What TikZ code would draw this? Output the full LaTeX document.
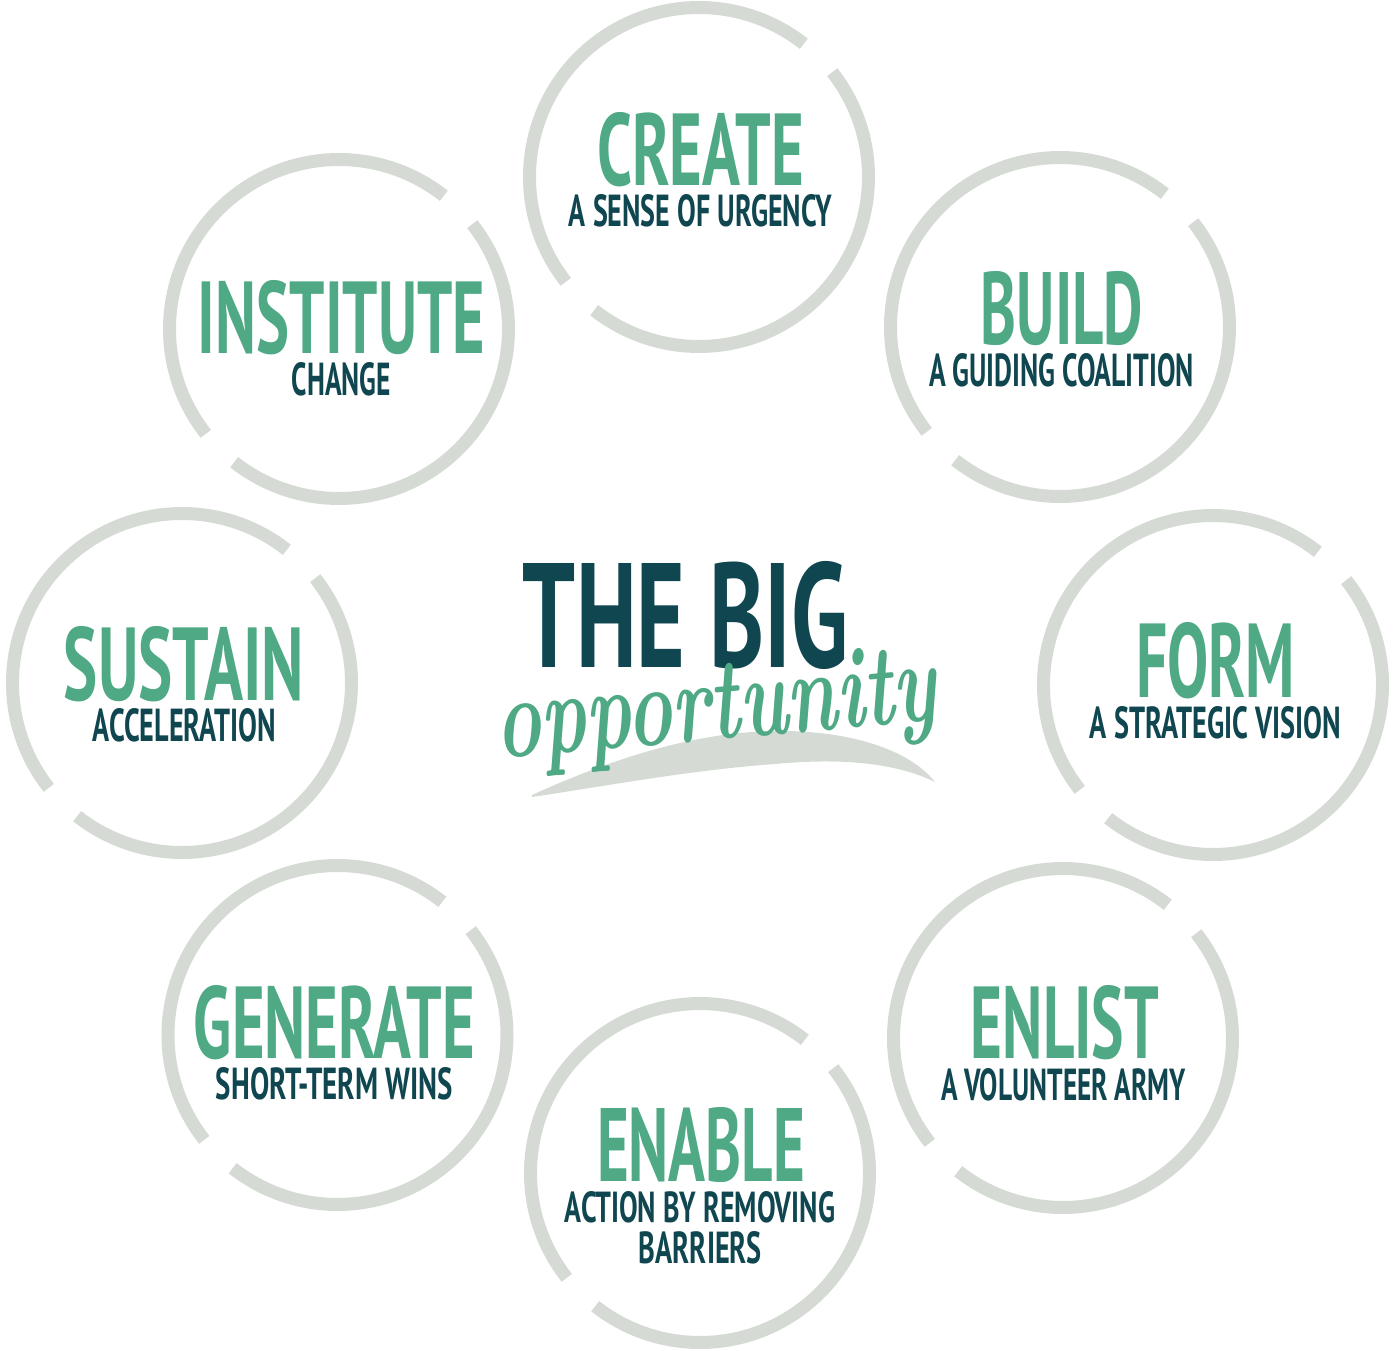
\documentclass[tikz,border=0pt]{standalone}
\usepackage{fontspec}
\usepackage{graphicx}
\newfontfamily\condfont{PT Sans}
\definecolor{ringgray}{HTML}{D5DBD4}
\definecolor{leaf}{HTML}{4EA984}
\definecolor{deepteal}{HTML}{0F4650}
\newcommand{\fitto}[3]{\resizebox{#1pt}{#2pt}{\condfont\bfseries #3}}
\begin{document}
\begin{tikzpicture}[x=1pt,y=-1pt,
  ring/.style={line width=13pt, draw=ringgray, line cap=butt},
  headtext/.style={inner sep=0pt, text=leaf, anchor=center},
  subtext/.style={inner sep=0pt, text=deepteal, anchor=center}]
\useasboundingbox (0,0) rectangle (1400,1351);
% ring centres
\coordinate (cCreate) at (699,177);
\coordinate (cBuild) at (1060,327);
\coordinate (cForm) at (1213,685);
\coordinate (cEnlist) at (1063,1038);
\coordinate (cEnable) at (700,1173);
\coordinate (cGenerate) at (337.5,1035);
\coordinate (cSustain) at (182,683);
\coordinate (cInstitute) at (339,329);
\foreach \c in {cCreate,cBuild,cForm,cEnlist,cEnable,cGenerate,cSustain,cInstitute}{
  \draw[ring] (\c) ++(-38.2:169.5) arc[start angle=-38.2, end angle=128.2, radius=169.5];
  \draw[ring] (\c) ++(141.8:169.5) arc[start angle=141.8, end angle=308.2, radius=169.5];
}
% texts
\node[headtext] (tCreate) at (700.5,149.5) {\fitto{207}{73}{CREATE}};
\node[subtext] (sCreate) at (700.5,211) {\fitto{263}{32}{A SENSE OF URGENCY}};
\node[headtext] (tBuild) at (1062,308.5) {\fitto{162}{73}{BUILD}};
\node[subtext] (sBuild) at (1061.5,370) {\fitto{265}{33}{A GUIDING COALITION}};
\node[headtext] (tForm) at (1215.5,660.5) {\fitto{159}{75}{FORM}};
\node[subtext] (sForm) at (1215.5,722.5) {\fitto{251}{32}{A STRATEGIC VISION}};
\node[headtext] (tEnlist) at (1065,1022.5) {\fitto{188}{73}{ENLIST}};
\node[subtext] (sEnlist) at (1063.5,1085) {\fitto{245}{32}{A VOLUNTEER ARMY}};
\node[headtext] (tEnable) at (701,1145) {\fitto{208}{74}{ENABLE}};
\node[subtext] (sEnable) at (700,1207.5) {\fitto{270}{31}{ACTION BY REMOVING}};
\node[subtext] (sEnable2) at (700.5,1248) {\fitto{123}{32}{BARRIERS}};
\node[headtext] (tGenerate) at (334.5,1022.5) {\fitto{281}{73}{GENERATE}};
\node[subtext] (sGenerate) at (334.5,1084) {\fitto{237}{32}{SHORT-TERM WINS}};
\node[headtext] (tSustain) at (184,664) {\fitto{240}{74}{SUSTAIN}};
\node[subtext] (sSustain) at (184.5,725) {\fitto{183}{33}{ACCELERATION}};
\node[headtext] (tInstitute) at (341.5,317.5) {\fitto{287}{73}{INSTITUTE}};
\node[subtext] (sInstitute) at (341.5,379.5) {\fitto{99}{33}{CHANGE}};
% centre
\fill[ringgray] (532,795) .. controls (620,755) and (700,732) .. (775,731)
  .. controls (850,730) and (910,750) .. (935,782)
  .. controls (900,765) and (850,757) .. (775,764)
  .. controls (690,770) and (600,787) .. (532,797) -- cycle;
\node[subtext] (big) at (685.5,615) {\fitto{325}{106}{THE BIG}};
\node[inner sep=0pt, text=leaf, rotate=5] (opp) at (716,712)
  {\resizebox{442pt}{78pt}{\bfseries\itshape opportunity}};
\end{tikzpicture}
\end{document}
